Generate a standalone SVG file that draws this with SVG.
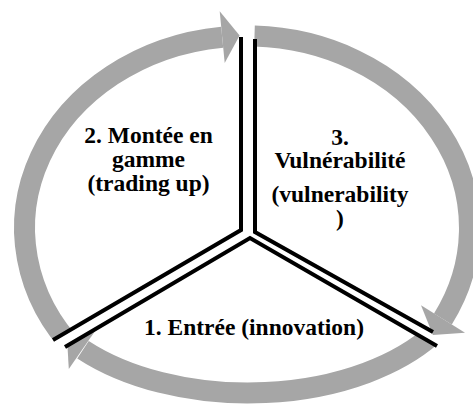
<svg xmlns="http://www.w3.org/2000/svg" width="473" height="406" viewBox="0 0 473 406">
  <style>
    .ring { fill: none; stroke: #A6A6A6; stroke-width: 21; }
    .head { fill: #A6A6A6; stroke: none; }
    .edge { fill: none; stroke: #000000; stroke-width: 4; stroke-linejoin: miter; stroke-linecap: butt; }
    text { font-family: 'Liberation Serif', serif; font-weight: 700; font-size: 23.5px; fill: #000000; text-anchor: middle; }
  </style>
  <defs>
    <clipPath id="clipLeft">
      <polygon points="0,0 250,0 250,231 241,231.5 0,372.5"/>
    </clipPath>
    <clipPath id="clipBottom">
      <polygon points="0,383.8 250,236.5 439,345.7 439,406 0,406"/>
    </clipPath>
  </defs>
  <rect x="0" y="0" width="473" height="406" fill="#FFFFFF"/>
  <g id="connectors">
    <g id="arrow-left" clip-path="url(#clipLeft)">
      <path class="ring" d="M76.6,351.4 A222.5,192 0 0 1 222.2,37.2"/>
      <polygon class="head" points="219.7,11.3 239.6,35.5 224.7,63.1"/>
    </g>
    <g id="arrow-right">
      <path class="ring" d="M254.5,36.1 A222.5,192 0 0 1 442.9,319"/>
      <polygon class="head" points="465,332.8 432.9,335.1 421,305.2"/>
    </g>
    <g id="arrow-bottom" clip-path="url(#clipBottom)">
      <path class="ring" d="M434.2,333.3 A222,131 0 0 1 83,349.7"/>
      <polygon class="head" points="97.2,328 67.1,339.3 68.8,369"/>
    </g>
  </g>
  <g id="node-1">
    <path class="edge" d="M65,347 L250,238 L437,346"/>
    <text x="254" y="335">1. Entrée (innovation)</text>
  </g>
  <g id="node-2">
    <path class="edge" d="M241,37 V230 L53,340"/>
    <text x="148.5" y="143">2. Montée en</text>
    <text x="148.5" y="167">gamme</text>
    <text x="148.5" y="190.5">(trading up)</text>
  </g>
  <g id="node-3">
    <path class="edge" d="M255,39 V232 L433,332"/>
    <text x="340" y="145">3.</text>
    <text x="340" y="168">Vulnérabilité</text>
    <text x="340" y="202">(vulnerability</text>
    <text x="340" y="225.5">)</text>
  </g>
</svg>
